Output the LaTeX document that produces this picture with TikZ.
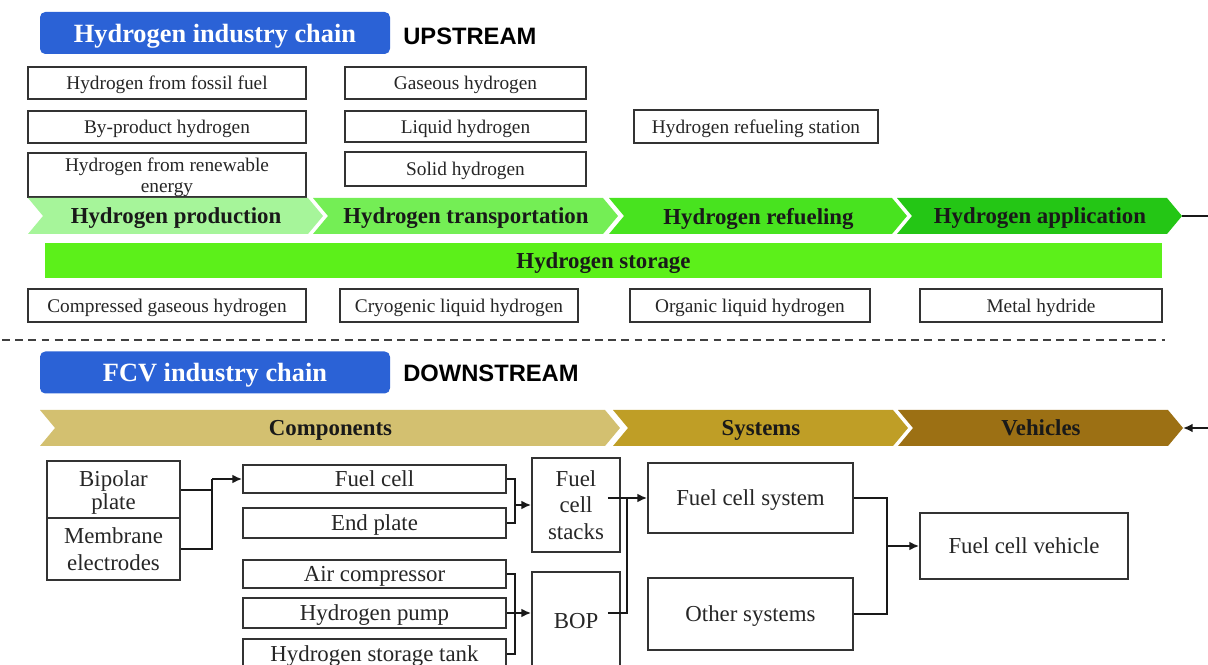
\documentclass[tikz,border=0pt]{standalone}
\usepackage{fontspec}
\setmainfont{Liberation Serif}
\newfontfamily\headsans{Liberation Sans}
\usetikzlibrary{arrows.meta,calc}
\definecolor{chainblue}{HTML}{2B62D6}
\definecolor{prodgreen}{HTML}{A6F59A}
\definecolor{transgreen}{HTML}{74EE55}
\definecolor{refuelgreen}{HTML}{48E31F}
\definecolor{appgreen}{HTML}{24C615}
\definecolor{storegreen}{HTML}{5CF01A}
\definecolor{compgold}{HTML}{D3C070}
\definecolor{sysgold}{HTML}{BF9E26}
\definecolor{vehgold}{HTML}{9C7014}
\definecolor{boxline}{HTML}{333333}

\begin{document}
\begin{tikzpicture}[x=0.02cm, y=-0.02cm,
    px/.style 2 args={minimum width=#1*0.02cm, minimum height=#2*0.02cm},
    box/.style={rectangle, draw=boxline, line width=1pt, fill=white, inner sep=1pt, text depth=0pt, align=center, text=black!85, font=\fontsize{11}{12}\selectfont},
    bigbox/.style={box, font=\fontsize{13}{15}\selectfont},
    chainbox/.style={rectangle, rounded corners=3pt, fill=chainblue, text=white, text depth=0pt, px={350}{42}, font=\fontsize{15}{18}\selectfont\bfseries},
    streamlabel/.style={anchor=west, inner sep=0pt, font=\headsans\fontsize{13.5}{16}\selectfont\bfseries},
    stage/.style={inner sep=0pt, text depth=0pt, font=\fontsize{13}{15}\selectfont\bfseries, text=black!90},
    link/.style={line width=1.1pt, draw=black!90},
    arr/.style={link, -{Latex[length=5.5pt,width=5pt]}}]
  \clip (0,0) rectangle (1208,665);

  % Upstream title
  \node[chainbox] (h2chain) at (215,33) {Hydrogen industry chain};
  \node[streamlabel] (upstream) at (403,36) {UPSTREAM};

  % Production and transportation routes
  \node[box, px={278}{32}] (fossil) at (167,83) {Hydrogen from fossil fuel};
  \node[box, px={278}{32}] (byproduct) at (167,127) {By-product hydrogen};
  \node[box, px={278}{44}] (renewable) at (167,175) {Hydrogen from renewable\\energy};
  \node[box, px={241}{32}] (gaseous) at (465.5,83) {Gaseous hydrogen};
  \node[box, px={241}{31}] (liquid) at (465.5,126.5) {Liquid hydrogen};
  \node[box, px={241}{34}] (solid) at (465.5,169) {Solid hydrogen};
  \node[box, px={244}{33}] (station) at (756,126.5) {Hydrogen refueling station};

  % Upstream stages
  \foreach \l/\r/\c/\t [count=\i] in {28/308/prodgreen/Hydrogen production, 313/603/transgreen/Hydrogen transportation, 609/892/refuelgreen/Hydrogen refueling, 897/1167/appgreen/Hydrogen application} {
    \fill[\c] (\l,198) -- (\r,198) -- (\r+15,216) -- (\r,234) -- (\l,234) -- (\l+15,216) -- cycle;
    \node[stage] (up\i) at ({(\l+\r)/2+8},216) {\t};
    \coordinate (uptip\i) at (\r+15,216);
  }

  % Storage
  \node[stage, fill=storegreen, px={1117}{35}] (storage) at (603.5,260.5) {Hydrogen storage};
  \node[box, px={278}{33}] (compressed) at (167,305.5) {Compressed gaseous hydrogen};
  \node[box, px={238}{33}] (cryogenic) at (459,305.5) {Cryogenic liquid hydrogen};
  \node[box, px={240}{33}] (organic) at (750,305.5) {Organic liquid hydrogen};
  \node[box, px={242}{33}] (hydride) at (1041,305.5) {Metal hydride};

  % Separator
  \draw[black!75, line width=1.1pt, dash pattern=on 4.5pt off 3pt] (2,340) -- (1165,340);

  % Downstream title
  \node[chainbox] (fcvchain) at (215,372.5) {FCV industry chain};
  \node[streamlabel] (downstream) at (403,373) {DOWNSTREAM};

  % Downstream stages
  \foreach \l/\r/\c/\t [count=\i] in {40/605/compgold/Components, 613/893/sysgold/Systems, 898/1168/vehgold/Vehicles} {
    \fill[\c] (\l,410) -- (\r,410) -- (\r+15,428) -- (\r,446) -- (\l,446) -- (\l+15,428) -- cycle;
    \node[stage] (down\i) at ({(\l+\r)/2+8},428) {\t};
    \coordinate (downtip\i) at (\r+15,428);
  }

  % Application feeds vehicles
  \draw[arr] (uptip4) -- ++(34,0) |- (downtip3);

  % Components
  \node[bigbox, px={133}{58}, font=\fontsize{13}{13.5}\selectfont] (bipolar) at (113.5,490) {Bipolar\\plate};
  \node[bigbox, px={133}{62}] (membrane) at (113.5,549) {Membrane\\electrodes};
  \node[bigbox, px={263}{28}] (fuelcell) at (374.5,479) {Fuel cell};
  \node[bigbox, px={263}{30}] (endplate) at (374.5,523) {End plate};
  \node[bigbox, px={263}{28}] (aircomp) at (374.5,574) {Air compressor};
  \node[bigbox, px={263}{30}] (pump) at (374.5,613) {Hydrogen pump};
  \node[bigbox, px={263}{30}] (tank) at (374.5,654) {Hydrogen storage tank};
  \node[bigbox, px={88}{94}] (stacks) at (576,505) {Fuel\\cell\\stacks};
  \node[bigbox, px={88}{98}] (bop) at (576,621) {BOP};

  % Systems and vehicle
  \node[bigbox, px={205}{70}] (fcs) at (750.5,498) {Fuel cell system};
  \node[bigbox, px={205}{72}] (other) at (750.5,614) {Other systems};
  \node[bigbox, px={208}{66}] (fcv) at (1024,546) {Fuel cell vehicle};

  % Connectors
  \coordinate (mea) at (212,479);
  \draw[link] (bipolar.east) -| (mea);
  \draw[link] (membrane.east) -| (mea);
  \draw[arr] (mea) -- (fuelcell.west);

  \coordinate (stackin) at (515,505);
  \draw[link] (fuelcell.east) -| (stackin);
  \draw[link] (endplate.east) -| (stackin);
  \draw[arr] (stackin) -- (stacks.west);

  \coordinate (bopin) at (515,613);
  \draw[link] (aircomp.east) -| (bopin);
  \draw[link] (tank.east) -| (bopin);
  \draw[arr] (pump.east) -- (pump.east -| bop.west);

  \coordinate (sysin) at (627,498);
  \draw[arr] ($(stacks.east |- fcs.west)+(-13,0)$) -- (fcs.west);
  \draw[link] ($(bop.east |- pump.east)+(-13,0)$) -| (sysin);

  \coordinate (vehin) at (887,546);
  \draw[link] (fcs.east) -| (vehin);
  \draw[link] (other.east) -| (vehin);
  \draw[arr] (vehin) -- (fcv.west);
\end{tikzpicture}
\end{document}
